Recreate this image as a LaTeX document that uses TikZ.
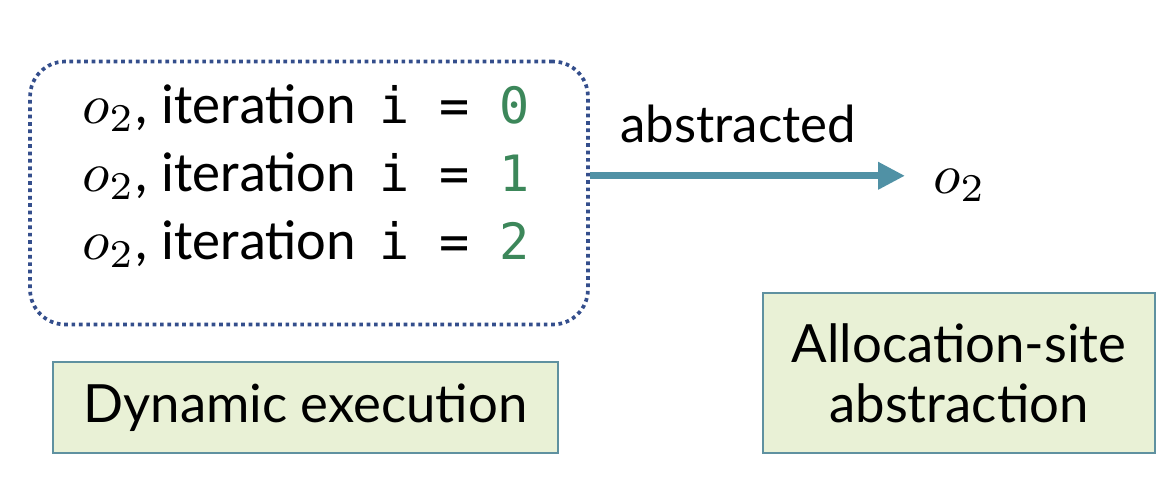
\documentclass[tikz,border=0pt]{standalone}
\usepackage{graphicx}
\usepackage{fontspec}
\setmainfont{Lato}
\newfontfamily\bodyfont{Carlito}
\newfontfamily\codefont{DejaVu Sans Mono}
\usetikzlibrary{arrows.meta}
\definecolor{dotblue}{RGB}{52,78,140}
\definecolor{arrowteal}{RGB}{80,145,165}
\definecolor{boxgreen}{RGB}{233,241,214}
\definecolor{boxline}{RGB}{95,145,160}
\definecolor{numgreen}{RGB}{60,135,90}
\def\otwo{\scalebox{3.2}{\normalsize$o_2$}}
\tikzset{
	labelbox/.style={draw=boxline, line width=1.1pt, fill=boxgreen, inner sep=0pt, align=center, font=\fontsize{30}{34}\selectfont},
	iterline/.style={anchor=base west, inner sep=0pt, font=\bodyfont\fontsize{32}{36}\selectfont},
}

\begin{document}
\begin{tikzpicture}[x=0.02cm,y=-0.02cm]
		%%%%% START %%%%%
		\useasboundingbox (0,0) rectangle (1170,480);
		
		\node[draw=dotblue, line width=2.1pt, dash pattern=on 2.1pt off 2.1pt, rounded corners=20pt, minimum width=11.16cm, minimum height=5.26cm] (run) at (309,193) {};
		
		\foreach \k/\y in {0/123,1/191,2/259}
			\node[iterline] (line\k) at (82,\y) {\otwo, iteration\hspace{6pt} {\codefont\fontsize{28.5}{30}\selectfont i = \textcolor{numgreen}{\k}}};
		
		\node[anchor=base west, inner sep=0pt] (obj) at (933,193) {\otwo};
		\draw[arrowteal, line width=4pt, shorten >=0.56cm, -{Triangle[length=0.54cm, width=0.52cm]}] (line1 -| run.east) -- (obj.west |- line1);
		\node[anchor=base west, inner sep=0pt, font=\fontsize{29}{32}\selectfont] (abs) at (620,142) {abstracted};
		
		\node[labelbox, minimum width=10.1cm, minimum height=1.82cm] (dyn) at (305.5,407.5) {Dynamic execution};
		\node[labelbox, minimum width=7.84cm, minimum height=3.2cm] (site) at (959,373) {Allocation-site\\abstraction};
		
		%%%%% END %%%%%
\end{tikzpicture}
\end{document}
